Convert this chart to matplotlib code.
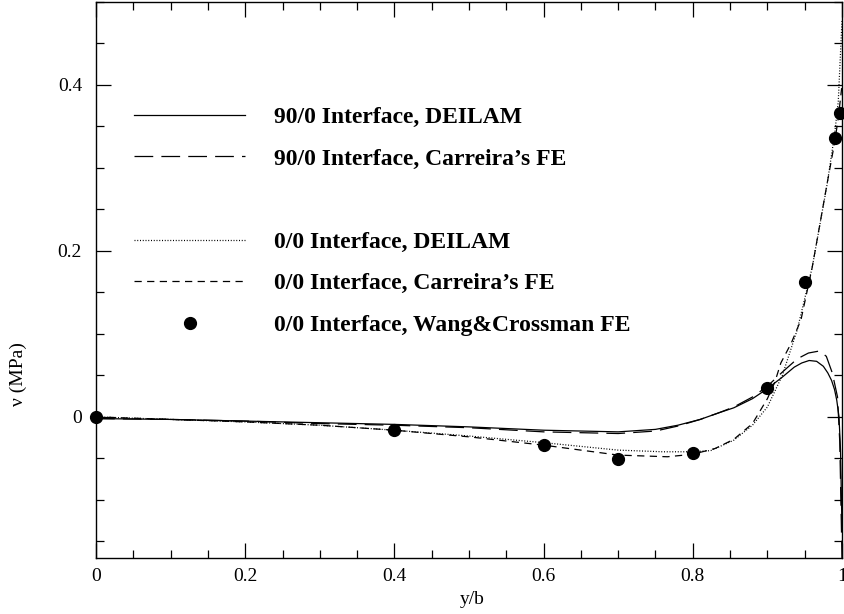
import matplotlib
matplotlib.use("Agg")
import matplotlib.pyplot as plt
from matplotlib.lines import Line2D
from matplotlib.ticker import MultipleLocator

# 90/0 interface, DEILAM (solid)
x_90_deilam = [0, 0.1, 0.2, 0.3, 0.4, 0.5, 0.6, 0.65, 0.7, 0.75, 0.78, 0.81, 0.835, 0.855,
               0.88, 0.9, 0.92, 0.936, 0.946, 0.956, 0.966, 0.975, 0.981, 0.986, 0.99,
               0.993, 0.996, 0.998, 1.0]
y_90_deilam = [-0.002, -0.003, -0.005, -0.007, -0.009, -0.012, -0.016, -0.017, -0.018, -0.015,
               -0.010, -0.003, 0.005, 0.011, 0.022, 0.034, 0.048, 0.060, 0.065, 0.068, 0.067,
               0.061, 0.053, 0.044, 0.033, 0.020, 0.0, -0.04, -0.135]

# 90/0 interface, Carreira's FE (long dash)
x_90_fe = [0, 0.1, 0.2, 0.3, 0.4, 0.5, 0.6, 0.65, 0.7, 0.75, 0.78, 0.81, 0.835, 0.855, 0.88,
           0.9, 0.92, 0.94, 0.955, 0.97, 0.979, 0.987, 0.994, 0.997, 1.0]
y_90_fe = [-0.002, -0.003, -0.005, -0.008, -0.010, -0.013, -0.018, -0.019, -0.020, -0.017,
           -0.011, -0.003, 0.005, 0.012, 0.024, 0.037, 0.054, 0.070, 0.077, 0.0795, 0.073,
           0.053, 0.024, -0.03, -0.17]

# 0/0 interface, DEILAM (dotted)
x_00_deilam = [0, 0.1, 0.2, 0.3, 0.4, 0.5, 0.6, 0.7, 0.76, 0.8, 0.824, 0.855, 0.88, 0.9,
               0.92, 0.94, 0.96, 0.98, 0.99, 0.995, 1.0]
y_00_deilam = [0.0, -0.003, -0.006, -0.010, -0.016, -0.023, -0.031, -0.040, -0.042, -0.042,
               -0.0406, -0.028, -0.010, 0.012, 0.050, 0.105, 0.180, 0.280, 0.340, 0.380, 0.478]

# 0/0 interface, Carreira's FE (short dash)
x_00_fe = [0, 0.1, 0.2, 0.3, 0.4, 0.5, 0.6, 0.65, 0.7, 0.766, 0.8, 0.83, 0.855, 0.88, 0.9,
           0.91, 0.918, 0.932, 0.945, 0.96, 0.981, 0.99, 0.995, 1.0]
y_00_fe = [0.0, -0.003, -0.006, -0.010, -0.016, -0.024, -0.034, -0.040, -0.046, -0.048,
           -0.045, -0.038, -0.027, -0.008, 0.022, 0.042, 0.065, 0.089, 0.117, 0.180, 0.286,
           0.330, 0.360, 0.400]

# 0/0 interface, Wang & Crossman FE (points)
x_wang = [0, 0.4, 0.6, 0.7, 0.8, 0.9, 0.95, 0.99, 0.997]
y_wang = [0.0, -0.016, -0.034, -0.051, -0.043, 0.035, 0.163, 0.336, 0.366]

labels = ["90/0 Interface, DEILAM",
          "90/0 Interface, Carreira\u2019s FE",
          "0/0 Interface, DEILAM",
          "0/0 Interface, Carreira\u2019s FE",
          "0/0 Interface, Wang&Crossman FE"]

plt.rcParams['font.family'] = ['Liberation Serif', 'DejaVu Serif']

fig = plt.figure(figsize=(8.44, 6.14), dpi=100)
ax = fig.add_axes([96 / 844, 1 - 558 / 614, 746 / 844, 556 / 614])

lw = 0.9
ax.plot(x_90_deilam, y_90_deilam, color='black', lw=lw, ls='-')
ax.plot(x_90_fe, y_90_fe, color='black', lw=lw, ls=(0, (15, 6.5)))
ax.plot(x_00_deilam, y_00_deilam, color='black', lw=lw, ls=(0, (0.8, 1.4)))
ax.plot(x_00_fe, y_00_fe, color='black', lw=lw, ls=(0, (5.8, 4.3)))
ax.plot(x_wang, y_wang, 'o', color='black', ms=8.5, clip_on=False, zorder=5)

ax.set_xlim(0, 1)
ax.set_ylim(-0.17, 0.5)
ax.xaxis.set_major_locator(MultipleLocator(0.2))
ax.xaxis.set_minor_locator(MultipleLocator(0.05))
ax.yaxis.set_major_locator(MultipleLocator(0.2))
ax.yaxis.set_minor_locator(MultipleLocator(0.05))
ax.xaxis.set_major_formatter(plt.FuncFormatter(lambda v, p: f"{v:g}"))
ax.yaxis.set_major_formatter(plt.FuncFormatter(lambda v, p: f"{v:g}"))
ax.tick_params(which='both', direction='in', top=True, right=True, width=0.9,
               labelsize=14, colors='black')
ax.tick_params(which='major', length=11)
ax.tick_params(which='minor', length=6)
ax.tick_params(axis='x', pad=7)
ax.tick_params(axis='y', pad=10)
for sp in ax.spines.values():
    sp.set_linewidth(1.0)

ax.set_xlabel("y/b", fontsize=14)
ax.set_ylabel("\u03bd (MPa)", fontsize=14)
ax.xaxis.set_label_coords(0.505, -0.06)
ax.yaxis.set_label_coords(-0.093, 0.33)

# legend with an empty row between the two groups
handles = [
    Line2D([], [], color='black', lw=lw, ls='-'),
    Line2D([], [], color='black', lw=lw, ls=(0, (15, 6.5))),
    Line2D([], [], color='none'),
    Line2D([], [], color='black', lw=lw, ls=(0, (0.8, 1.4))),
    Line2D([], [], color='black', lw=lw, ls=(0, (5.8, 4.3))),
    Line2D([], [], color='black', ls='none', marker='o', ms=8.5),
]
leg_labels = labels[:2] + [" "] + labels[2:]
leg = ax.legend(handles, leg_labels, loc='upper left', bbox_to_anchor=(0.051, 0.812),
                frameon=False, handlelength=4.7, handletextpad=1.23, labelspacing=0.85,
                borderpad=0, borderaxespad=0, numpoints=1,
                prop={'family': 'Liberation Serif', 'weight': 'bold', 'size': 17})

fig.savefig("out.png", dpi=100)
